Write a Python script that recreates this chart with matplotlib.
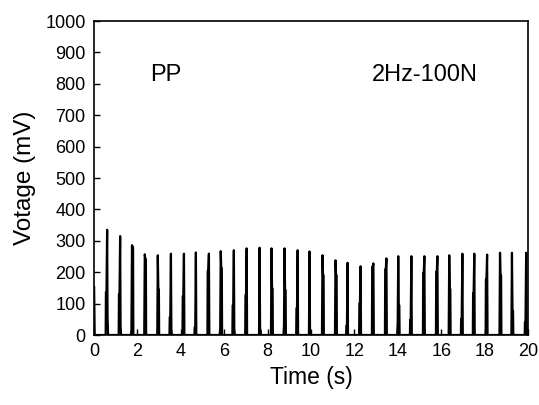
import numpy as np
import matplotlib
matplotlib.use("Agg")
import matplotlib.pyplot as plt

plt.rcParams['font.family'] = ['Liberation Sans', 'DejaVu Sans']

# PULSE DATA
pulse_t = [0.00, 0.60, 1.20, 1.75, 2.34, 2.94, 3.54, 4.14, 4.69, 5.29,
           5.84, 6.44, 7.03, 7.63, 8.18, 8.78, 9.38, 9.93, 10.53, 11.13,
           11.68, 12.28, 12.87, 13.47, 14.02, 14.62, 15.22, 15.82, 16.37, 16.97,
           17.52, 18.11, 18.71, 19.26, 19.91]
peak_mv = [155, 335, 315, 286, 257, 254, 259, 259, 263, 259,
           267, 270, 276, 278, 276, 276, 270, 266, 254, 238,
           230, 219, 228, 244, 251, 251, 251, 251, 254, 259,
           259, 256, 262, 262, 262]
shoulder_mv = [0, 137, 130, 280, 241, 145, 57, 124, 25, 204,
               212, 95, 127, 15, 148, 143, 85, 10, 190, 190,
               30, 101, 217, 209, 95, 48, 198, 201, 146, 51,
               134, 177, 190, 77, 40]
shoulder_side = [1, -1, -1, 1, 1, 1, -1, -1, -1, -1,
                 1, -1, -1, 1, 1, 1, -1, 1, 1, 1,
                 -1, -1, -1, -1, 1, -1, -1, -1, 1, -1,
                 -1, -1, 1, 1, -1]
tail_mv = [0, 54, 29, 15, 0, 0, 20, 0, 0, 0,
           20, 20, 0, 0, 0, 30, 0, 0, 0, 0,
           0, 0, 0, 0, 40, 0, 0, 0, 0, 0,
           0, 0, 0, 0, 20]

# BUILD WAVEFORM
w = 0.025
t_all, v_all = [0.0], [0.0]
for t, p, s, d, tl in zip(pulse_t, peak_mv, shoulder_mv, shoulder_side, tail_mv):
    if d == 1:
        seg_t = [t - 2 * w, t - w, t - 0.2 * w, t, t + w, t + 2 * w, t + 2.5 * w]
        seg_v = [0, tl, p, p, s, s, 0]
    else:
        seg_t = [t - 2.5 * w, t - 2 * w, t - w, t, t + 0.2 * w, t + w, t + 2 * w]
        seg_v = [0, s, s, p, p, tl, 0]
    t_all += seg_t
    v_all += seg_v
t_all.append(20.0)
v_all.append(0.0)
t_all = np.clip(t_all, 0, 20)

fig = plt.figure(figsize=(5.39, 4.05), dpi=100)
ax = fig.add_axes([0.1744, 0.1728, 0.8052, 0.7752])

ax.plot(t_all, v_all, color="black", lw=1.6)

ax.set_xlim(0, 20)
ax.set_ylim(0, 1000)
ax.set_xticks(np.arange(0, 21, 2))
ax.set_yticks(np.arange(0, 1001, 100))
ax.tick_params(direction="in", length=4, width=1, labelsize=13, pad=6)
for sp in ax.spines.values():
    sp.set_linewidth(1.2)

ax.set_xlabel("Time (s)", fontsize=16.5, labelpad=4)
ax.set_ylabel("Votage (mV)", fontsize=17.5, labelpad=7)

ax.text(2.6, 810, "PP", fontsize=17)
ax.text(12.8, 810, "2Hz-100N", fontsize=17)

fig.savefig("out.png", dpi=100)
